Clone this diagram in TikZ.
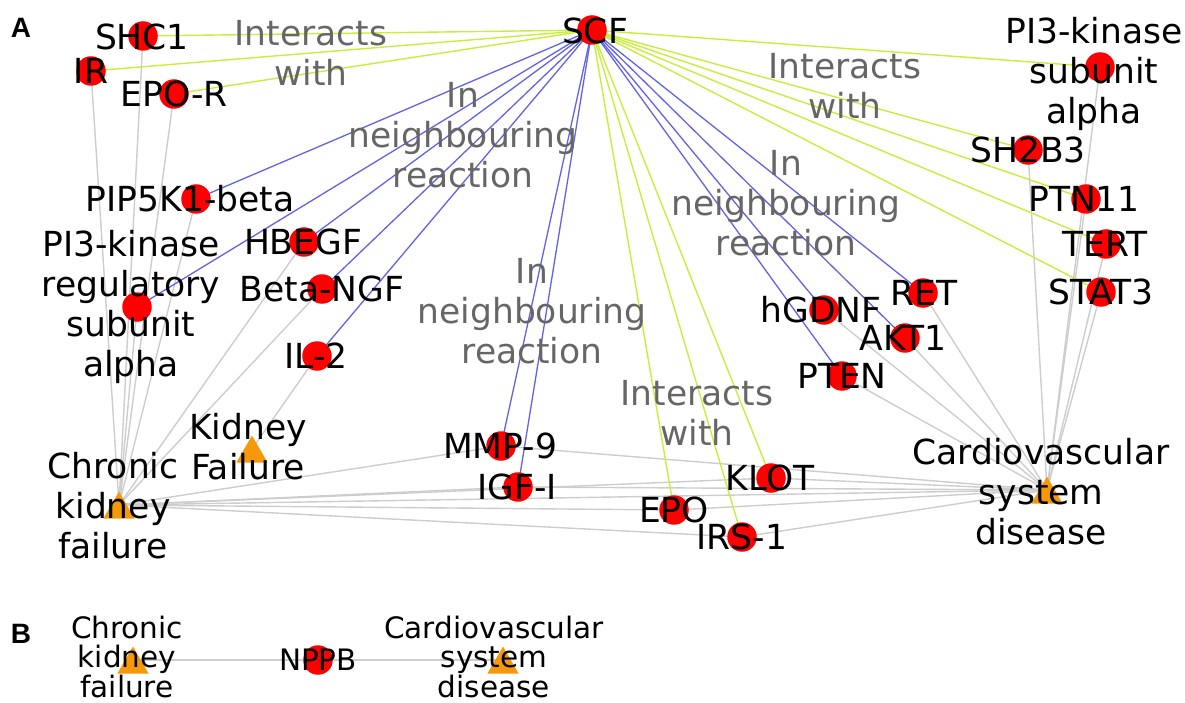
\documentclass[tikz,border=0pt]{standalone}
\usepackage{fontspec}
\setmainfont{DejaVu Sans}
\newfontfamily\panelfont{Liberation Sans}
\usetikzlibrary{shapes.geometric}
\pgfdeclarelayer{bg}
\pgfsetlayers{bg,main}
\definecolor{egreen}{RGB}{200,238,60}
\definecolor{eblue}{RGB}{98,98,232}
\definecolor{egray}{RGB}{205,205,205}
\definecolor{lgray}{RGB}{102,102,102}
\definecolor{dorange}{RGB}{245,152,10}
\begin{document}
\begin{tikzpicture}[x=1pt,y=-1pt,
  gene/.style={circle,fill=red,draw=none,minimum size=29.5pt,inner sep=0pt},
  dis/.style={regular polygon,regular polygon sides=3,fill=dorange,draw=none,minimum size=36pt,inner sep=0pt,yshift=-4.5pt},
  lab/.style={align=center,inner sep=0pt,font=\fontsize{34.5}{40}\selectfont},
  elab/.style={lab,text=lgray},
  labB/.style={align=center,inner sep=0pt,font=\fontsize{29.5}{28.5}\selectfont},
  ge/.style={draw=egreen,line width=1.4pt},
  be/.style={draw=eblue,line width=1.3pt},
  ye/.style={draw=egray,line width=1.4pt},
  panel/.style={inner sep=0pt,font=\panelfont\bfseries\fontsize{28}{28}\selectfont}]
\useasboundingbox (0,0) rectangle (1185,703);
% positions
\coordinate (scf) at (592,30);
\coordinate (shc) at (143,36);
\coordinate (ir) at (91,71);
\coordinate (epor) at (174,94);
\coordinate (pip) at (196,199);
\coordinate (pireg) at (137,307);
\coordinate (hbegf) at (304,242);
\coordinate (bngf) at (322,289);
\coordinate (il) at (317,356);
\coordinate (kf) at (252,449);
\coordinate (ckf) at (119,505);
\coordinate (mmp) at (501,446);
\coordinate (igf) at (518,487);
\coordinate (epo) at (674,510);
\coordinate (irs) at (742,537);
\coordinate (klot) at (771,478);
\coordinate (csd) at (1047,490);
\coordinate (pten) at (842,376);
\coordinate (akt) at (905,338);
\coordinate (ret) at (923,293);
\coordinate (hgdnf) at (824,310);
\coordinate (stat) at (1101,292);
\coordinate (tert) at (1106,244);
\coordinate (ptn) at (1086,199);
\coordinate (shb) at (1028,150);
\coordinate (pia) at (1100,67);
\coordinate (bckf) at (133,660);
\coordinate (bnppb) at (318,660);
\coordinate (bcsd) at (503,660);
% edges
\begin{pgfonlayer}{bg}
\foreach \t in {ir,shc,epor,pip,pireg,hbegf,bngf,mmp,igf,klot,epo,irs,csd}
  \draw[ye] (ckf) -- (\t);
\draw[ye] (kf) -- (il);
\foreach \t in {mmp,igf,klot,epo,irs,pten,akt,ret,hgdnf,stat,tert,ptn,shb,pia}
  \draw[ye] (csd) -- (\t);
\foreach \t in {pip,pireg,hbegf,bngf,il,mmp,igf,hgdnf,pten,akt,ret}
  \draw[be] (scf) -- (\t);
\foreach \t in {shc,ir,epor,pia,shb,ptn,tert,stat,epo,irs,klot}
  \draw[ge] (scf) -- (\t);
\draw[ye] (bckf) -- (bnppb);
\draw[ye] (bnppb) -- (bcsd);
\end{pgfonlayer}
% gene circles
\foreach \n in {scf,shc,ir,epor,pip,pireg,hbegf,bngf,il,mmp,igf,epo,irs,klot,pten,akt,ret,hgdnf,stat,tert,ptn,shb,pia,bnppb}
  \node[gene] (\n-n) at (\n) {};
\foreach \n in {kf,ckf,csd,bckf,bcsd}
  \node[dis] (\n-n) at (\n) {};
% node labels
\node[lab] (scf-l) at (595,31) {SCF};
\node[lab] (shc-l) at (142,37) {SHC1};
\node[lab] (ir-l) at (91,71) {IR};
\node[lab] (epor-l) at (174,94) {EPO-R};
\node[lab] (pip-l) at (190,199) {PIP5K1-beta};
\node[lab] (pireg-l) at (131,307) {PI3-kinase\\regulatory\\subunit\\alpha};
\node[lab] (hbegf-l) at (303,242) {HBEGF};
\node[lab] (bngf-l) at (322,289) {Beta-NGF};
\node[lab] (il-l) at (316,356) {IL-2};
\node[lab] (kf-l) at (248,447) {Kidney\\Failure};
\node[lab] (ckf-l) at (113,506) {Chronic\\kidney\\failure};
\node[lab] (mmp-l) at (500,446) {MMP-9};
\node[lab] (igf-l) at (517,487) {IGF-I};
\node[lab] (epo-l) at (674,510) {EPO};
\node[lab] (irs-l) at (742,537) {IRS-1};
\node[lab] (klot-l) at (770,478) {KLOT};
\node[lab] (csd-l) at (1041,492) {Cardiovascular\\system\\disease};
\node[lab] (pten-l) at (842,376) {PTEN};
\node[lab] (akt-l) at (903,338) {AKT1};
\node[lab] (ret-l) at (924,293) {RET};
\node[lab] (hgdnf-l) at (821,310) {hGDNF};
\node[lab] (stat-l) at (1101,292) {STAT3};
\node[lab] (tert-l) at (1105,244) {TERT};
\node[lab] (ptn-l) at (1084,199) {PTN11};
\node[lab] (shb-l) at (1028,150) {SH2B3};
\node[lab] (pia-l) at (1094,74) {PI3-kinase\\subunit\\alpha};
% edge labels
\node[elab] (e1) at (311,53) {Interacts\\with};
\node[elab] (e2) at (463,135) {In\\neighbouring\\reaction};
\node[elab] (e3) at (845,86) {Interacts\\with};
\node[elab] (e4) at (786,203) {In\\neighbouring\\reaction};
\node[elab] (e5) at (532,311) {In\\neighbouring\\reaction};
\node[elab] (e6) at (697,413) {Interacts\\with};
% panel B labels
\node[labB] (bckf-l) at (127,657) {Chronic\\kidney\\failure};
\node[labB] (bnppb-l) at (318,660) {NPPB};
\node[labB] (bcsd-l) at (494,657) {Cardiovascular\\system\\disease};
% panel letters
\node[panel] (pA) at (21,28) {A};
\node[panel] (pB) at (21,634) {B};
\end{tikzpicture}
\end{document}
